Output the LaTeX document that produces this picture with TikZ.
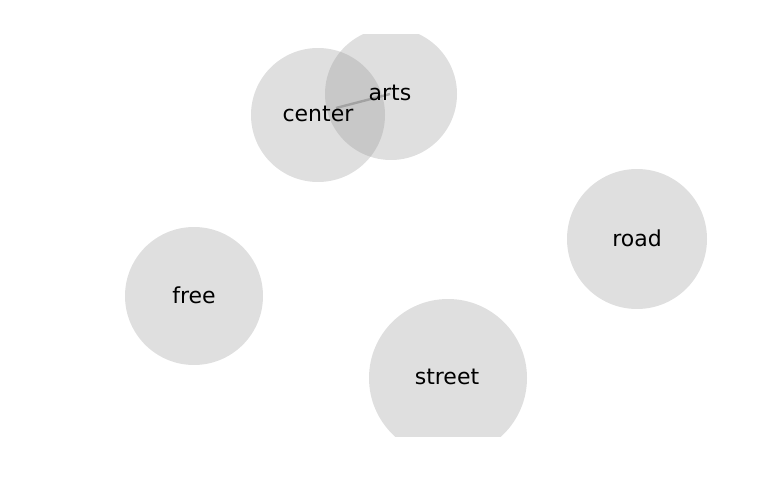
\documentclass[tikz,border=0pt]{standalone}
\usepackage{fontspec}
\setmainfont{DejaVu Sans}
\begin{document}
\begin{tikzpicture}[x=1pt,y=-1pt,
  lbl/.style={font=\fontsize{22}{24}\selectfont,text=black,inner sep=0pt},
  bub/.style={fill=black!42,opacity=0.3},
  link/.style={draw=black!40,line width=2.4pt,opacity=0.8}]
\useasboundingbox (0,0) rectangle (768,500);
\begin{scope}
\clip (0,35) rectangle (768,436);
\fill[bub] (318,115) circle (67);
\fill[bub] (391,94) circle (66);
\fill[bub] (194,296) circle (69);
\fill[bub] (637,239) circle (70);
\fill[bub] (448,378) circle (79);
\end{scope}
\coordinate (cs) at (336,108);
\coordinate (ae) at (390,94);
\draw[link] (cs) -- (ae);
\node[lbl] (center) at (318,114) {center};
\node[lbl] (arts) at (390,93) {arts};
\node[lbl] (free) at (194,295) {free};
\node[lbl] (road) at (637,238) {road};
\node[lbl] (street) at (447,377) {street};
\end{tikzpicture}
\end{document}
